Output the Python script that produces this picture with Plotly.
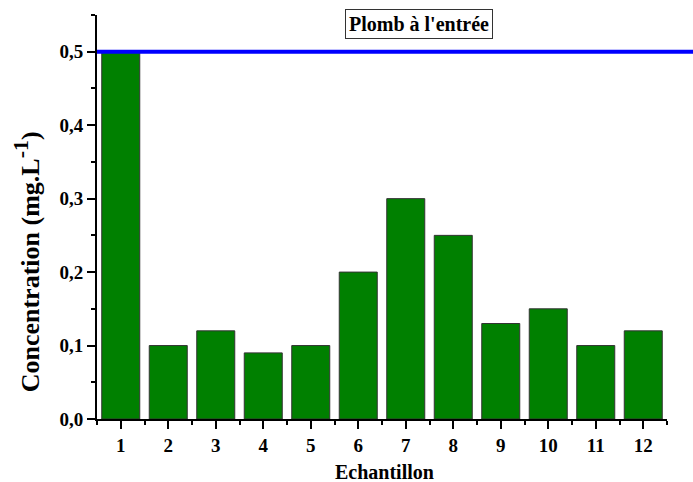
import plotly.graph_objects as go

samples = [1, 2, 3, 4, 5, 6, 7, 8, 9, 10, 11, 12]
concentration = [0.50, 0.10, 0.12, 0.09, 0.10, 0.20, 0.30, 0.25, 0.13, 0.15, 0.10, 0.12]
limit_value = 0.5
legend_label = "Plomb à l'entrée"

font = "Times New Roman"

fig = go.Figure()
fig.add_trace(go.Bar(
    x=samples, y=concentration, width=0.8,
    marker=dict(color="#008000", line=dict(color="#333333", width=1)),
    showlegend=False,
))
fig.add_shape(type="line", xref="paper", yref="y", x0=0, x1=1.1,
              y0=limit_value, y1=limit_value,
              line=dict(color="#0000ff", width=4))

fig.add_annotation(xref="paper", yref="paper", x=0.565, y=1.014, yanchor="top",
                   text="<b>" + legend_label + "</b>", showarrow=False,
                   font=dict(family=font, size=20, color="black"),
                   bordercolor="#333333", borderwidth=1, borderpad=3, bgcolor="white")

# y-axis title placed as a rotated annotation
fig.add_annotation(xref="paper", yref="paper", x=-0.123, y=0.39, xanchor="center", yanchor="middle",
                   text="<b>Concentration (mg.L<sup><span style='font-size:22px'>-1</span></sup>)</b>",
                   textangle=-90, showarrow=False,
                   font=dict(family=font, size=26, color="black"))

# x-axis title as annotation
fig.add_annotation(xref="paper", yref="paper", x=0.505, y=-0.131, xanchor="center", yanchor="middle",
                   text="<b>Echantillon</b>", showarrow=False,
                   font=dict(family=font, size=20, color="black"))

fig.update_layout(
    width=693, height=482,
    margin=dict(l=97, r=26, t=15, b=63),
    plot_bgcolor="white", paper_bgcolor="white",
    font=dict(family=font, size=19, color="black"),
    bargap=0.2,
)
fig.update_xaxes(
    automargin=False,
    range=[0.5, 12.5], tickmode="array", tickvals=samples,
    ticktext=["<b>%d</b>" % s for s in samples],
    ticks="outside", ticklen=8, tickwidth=2, tickcolor="black",
    minor=dict(tickmode="array", tickvals=[s + 0.5 for s in samples[:-1]] + [0.5, 12.5],
               ticks="outside", ticklen=4, tickwidth=2, tickcolor="black"),
    showline=True, linewidth=2, linecolor="black", showgrid=False, zeroline=False,
    tickfont=dict(family=font, size=19),
)
yt = [0.0, 0.1, 0.2, 0.3, 0.4, 0.5]
fig.update_yaxes(
    automargin=False,
    range=[0, 0.55], tickmode="array", tickvals=yt,
    ticktext=["<b>%s</b>" % ("%.1f" % v).replace(".", ",") for v in yt],
    ticks="outside", ticklen=8, tickwidth=2, tickcolor="black",
    minor=dict(tickmode="array", tickvals=[0.05, 0.15, 0.25, 0.35, 0.45, 0.55],
               ticks="outside", ticklen=4, tickwidth=2, tickcolor="black"),
    showline=True, linewidth=2, linecolor="black", showgrid=False, zeroline=False,
    tickfont=dict(family=font, size=19),
)

fig.write_html("out.html")
